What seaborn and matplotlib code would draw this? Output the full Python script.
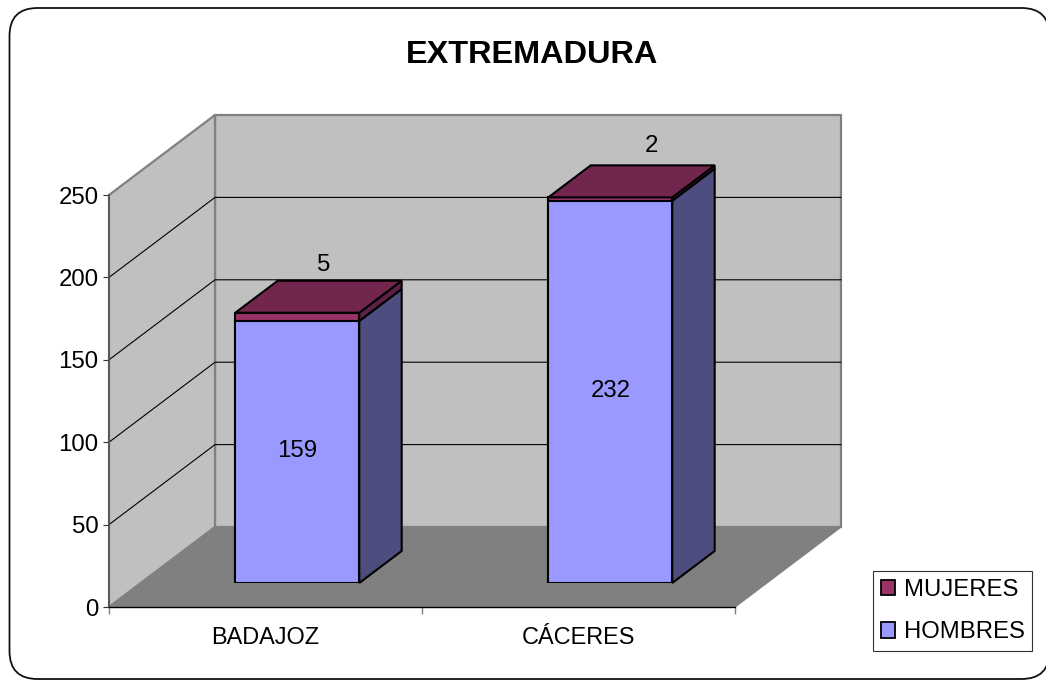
import numpy as np
import seaborn as sns
import matplotlib
matplotlib.use("Agg")
import matplotlib.pyplot as plt
from matplotlib.patches import Polygon, FancyBboxPatch, Patch
from matplotlib.transforms import IdentityTransform

regiones = ["BADAJOZ", "CÁCERES"]
hombres = [159, 232]
mujeres = [5, 2]
y_ticks = [0, 50, 100, 150, 200, 250]
titulo = "EXTREMADURA"

W, H = 1046, 680
DX, DY = 106, 80      # depth of the 3D box, in pixels
BAR_D0, BAR_D1 = 0.3, 0.7

sns.set_theme(style="white")
plt.rcParams["font.family"] = ["Liberation Sans", "DejaVu Sans"]
FS = 17.3

fig = plt.figure(figsize=(W / 100, H / 100), dpi=100)
ident = IdentityTransform()

# rounded chart frame, runs slightly off the right edge
fig.add_artist(FancyBboxPatch((9.5, 1), 1040, 671, boxstyle="round,pad=0,rounding_size=28",
                              transform=ident, fc="white", ec="#111111", lw=1.3, zorder=0))

box = [109 / W, (H - 607) / H, 626 / W, 412 / H]
ax = fig.add_axes(box, zorder=1)
ax.patch.set_visible(False)
ax.set_xlim(-0.5, 1.5)
ax.set_ylim(0, 250)
# the bars stand further back in the box, so they get their own shifted axes
ax_bar = fig.add_axes([box[0] + DX * BAR_D0 / W, box[1] + DY * BAR_D0 / H, box[2], box[3]], zorder=2)


def p(a, x, y, d=0.0):
    px = a.transData.transform((x, y))
    return (px[0] + DX * d, px[1] + DY * d)


# walls and floor
pared = "#c0c0c0"
borde = "#808080"
ax.add_patch(Polygon([p(ax, -0.5, 0, 1), p(ax, 1.5, 0, 1), p(ax, 1.5, 250, 1), p(ax, -0.5, 250, 1)],
                     transform=ident, fc=pared, ec=borde, lw=1.6, clip_on=False, zorder=1))
ax.add_patch(Polygon([p(ax, -0.5, 0), p(ax, -0.5, 0, 1), p(ax, -0.5, 250, 1), p(ax, -0.5, 250)],
                     transform=ident, fc=pared, ec=borde, lw=1.6, clip_on=False, zorder=1))
ax.add_patch(Polygon([p(ax, -0.5, 0), p(ax, 1.5, 0), p(ax, 1.5, 0, 1), p(ax, -0.5, 0, 1)],
                     transform=ident, fc="#808080", ec=borde, lw=1, clip_on=False, zorder=1.5))

# gridlines on side wall and back wall
for t in y_ticks[1:-1]:
    a, b, c = p(ax, -0.5, t), p(ax, -0.5, t, 1), p(ax, 1.5, t, 1)
    ax.plot([a[0], b[0], c[0]], [a[1], b[1], c[1]], color="black", lw=0.8,
            transform=ident, clip_on=False, zorder=1.2, scalex=False, scaley=False)

sns.despine(ax=ax, top=True, right=True)
ax.spines["left"].set_color("#555555")
ax.spines["left"].set_linewidth(1.3)
ax.spines["bottom"].set_color("black")
ax.spines["bottom"].set_linewidth(1)
ax.spines["left"].set_zorder(3)
ax.spines["bottom"].set_zorder(3)
ax.set_yticks(y_ticks)
ax.set_xticks([-0.5, 0.5, 1.5], labels=[])
ax.set_xticks([0, 1], labels=regiones, minor=True)
ax.tick_params(axis="y", left=True, length=4.5, width=0.8, color="#333333", labelsize=FS, pad=3, labelcolor="black")
ax.tick_params(axis="x", which="major", bottom=True, length=5, width=1, color=borde)
ax.tick_params(axis="x", which="minor", bottom=False, length=0, labelsize=16.9, pad=14, labelcolor="black")

# bars: total behind, hombres in front, so the top sliver is mujeres
totales = np.array(hombres) + np.array(mujeres)
col_h, col_m = "#9999ff", "#993366"
col_h_side, col_m_side, col_m_top = "#4d4d80", "#5c2147", "#73264d"
sns.barplot(x=regiones, y=totales, color=col_m, saturation=1, width=0.396,
            edgecolor="black", linewidth=1.5, ax=ax_bar)
sns.barplot(x=regiones, y=hombres, color=col_h, saturation=1, width=0.396,
            edgecolor="black", linewidth=1.5, ax=ax_bar)
ax_bar.set_xlim(-0.5, 1.5)
ax_bar.set_ylim(0, 250)
ax_bar.axis("off")

depth = BAR_D1 - BAR_D0
for i in range(len(regiones)):
    x0, x1 = i - 0.198, i + 0.198
    h, tot = hombres[i], totales[i]
    caras = [
        ([p(ax_bar, x1, 0), p(ax_bar, x1, 0, depth), p(ax_bar, x1, h, depth), p(ax_bar, x1, h)], col_h_side),
        ([p(ax_bar, x1, h), p(ax_bar, x1, h, depth), p(ax_bar, x1, tot, depth), p(ax_bar, x1, tot)], col_m_side),
        ([p(ax_bar, x0, tot), p(ax_bar, x1, tot), p(ax_bar, x1, tot, depth), p(ax_bar, x0, tot, depth)], col_m_top),
    ]
    for pts, c in caras:
        ax_bar.add_patch(Polygon(pts, transform=ident, fc=c, ec="black", lw=1.5, clip_on=False,
                                 joinstyle="miter"))

# value labels
offsets = [(26, 48), (41, 51)]
for i in range(len(regiones)):
    ax_bar.text(i, hombres[i] / 2 + 0.7, str(hombres[i]), ha="center", va="center", fontsize=FS, color="black")
    ax_bar.annotate(str(mujeres[i]), (i, totales[i]), xytext=offsets[i], textcoords="offset pixels",
                    ha="center", va="center", fontsize=FS, color="black", annotation_clip=False)

fig.text(532.5 / W, 1 - 55 / H, titulo, ha="center", va="center", fontsize=23.4, fontweight="bold", color="black")

handles = [Patch(fc=col_m, ec="black", lw=1.3), Patch(fc=col_h, ec="black", lw=1.3)]
leg = ax.legend(handles, ["MUJERES", "HOMBRES"], loc="lower left",
                bbox_to_anchor=(873 / W, (H - 651) / H), bbox_transform=fig.transFigure,
                frameon=True, fontsize=17.2, borderaxespad=0, borderpad=0.32,
                handlelength=0.6, handleheight=0.6, handletextpad=0.36, labelspacing=0.86,
                fancybox=False, framealpha=1, edgecolor="#333333", labelcolor="black")
leg.get_frame().set_linewidth(0.8)
leg.set_zorder(5)

fig.savefig("out.png", dpi=100)
